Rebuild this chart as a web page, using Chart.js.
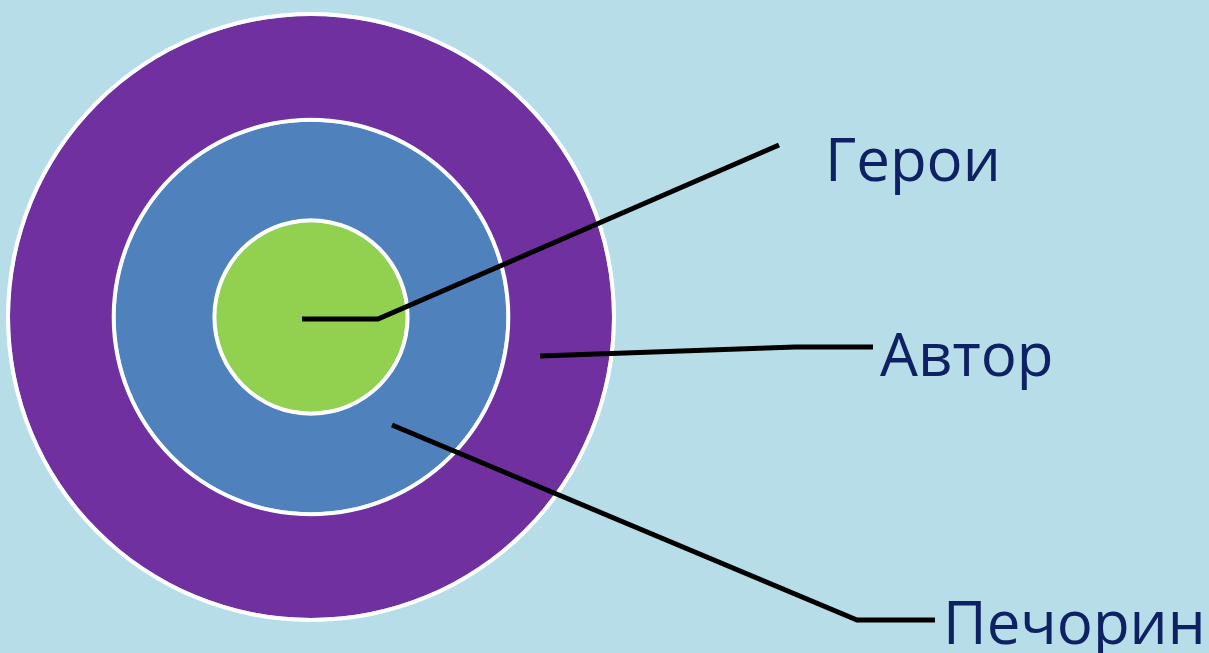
<!DOCTYPE html>
<html>
<head>
<meta charset="utf-8">
<script src="https://cdn.jsdelivr.net/npm/chart.js@4.4.1/dist/chart.umd.min.js"></script>
<style>
  html, body { margin: 0; padding: 0; background: #B7DDE8; overflow: hidden; }
  .wrap { position: absolute; left: 0; top: 0; width: 1209px; height: 653px; }
</style>
</head>
<body>
<div class="wrap"><canvas id="rings"></canvas></div>
<div class="wrap"><canvas id="callouts"></canvas></div>
<script>
// ---- data ----
const layers = ['Автор', 'Печорин', 'Герои'];          // outer -> inner
const layerValues = [1, 1, 1];                          // each layer is a full ring
const calloutLabels = ['Герои', 'Автор', 'Печорин'];
const calloutGeroi = [{x: 302, y: 319}, {x: 378, y: 319}, {x: 779, y: 145}];
const calloutAvtor = [{x: 540, y: 356}, {x: 795, y: 347}, {x: 873, y: 347}];
const calloutPechorin = [{x: 392, y: 425}, {x: 857, y: 620}, {x: 935, y: 620}];
const labelX = [825, 880, 943];
const labelY = [181, 376, 644];

// ---- style ----
const layerColors = ['#7030A0', '#4F81BD', '#92D050'];
const layerWeights = [102, 97, 95];
const gapWeight = 4;
const textColor = '#0E2263';

// build concentric rings, with thin white separators
const ringDatasets = [];
layers.forEach((name, i) => {
  ringDatasets.push({ label: 'sep' + i, data: [1], backgroundColor: '#FFFFFF', borderWidth: 0, weight: gapWeight, hoverOffset: 0 });
  ringDatasets.push({ label: name, data: [layerValues[i]], backgroundColor: layerColors[i], borderWidth: 0, weight: layerWeights[i], hoverOffset: 0 });
});

new Chart(document.getElementById('rings'), {
  type: 'pie',
  data: { labels: ['layer'], datasets: ringDatasets },
  options: {
    responsive: true, maintainAspectRatio: false, animation: false, events: [],
    layout: { padding: { left: 6, right: 593, top: 12, bottom: 31 } },
    plugins: { legend: { display: false }, tooltip: { enabled: false } }
  }
});

const labelPlugin = {
  id: 'calloutLabels',
  afterDatasetsDraw(chart) {
    const { ctx, scales } = chart;
    ctx.save();
    ctx.fillStyle = textColor;
    ctx.font = '60px "Open Sans"';
    ctx.textBaseline = 'alphabetic';
    ctx.textAlign = 'left';
    calloutLabels.forEach((t, i) => {
      ctx.fillText(t, scales.x.getPixelForValue(labelX[i]), scales.y.getPixelForValue(labelY[i]));
    });
    ctx.restore();
  }
};

const lineStyle = { showLine: true, borderColor: '#000000', borderWidth: 5, pointRadius: 0, fill: false, tension: 0, borderJoinStyle: 'miter' };
new Chart(document.getElementById('callouts'), {
  type: 'scatter',
  data: {
    datasets: [
      Object.assign({ label: calloutLabels[0], data: calloutGeroi }, lineStyle),
      Object.assign({ label: calloutLabels[1], data: calloutAvtor }, lineStyle),
      Object.assign({ label: calloutLabels[2], data: calloutPechorin }, lineStyle)
    ]
  },
  options: {
    responsive: true, maintainAspectRatio: false, animation: false, events: [],
    layout: { padding: 0 },
    scales: {
      x: { type: 'linear', min: 0, max: 1209, display: false },
      y: { type: 'linear', min: 0, max: 653, reverse: true, display: false }
    },
    plugins: { legend: { display: false }, tooltip: { enabled: false } }
  },
  plugins: [labelPlugin]
});
</script>
</body>
</html>
